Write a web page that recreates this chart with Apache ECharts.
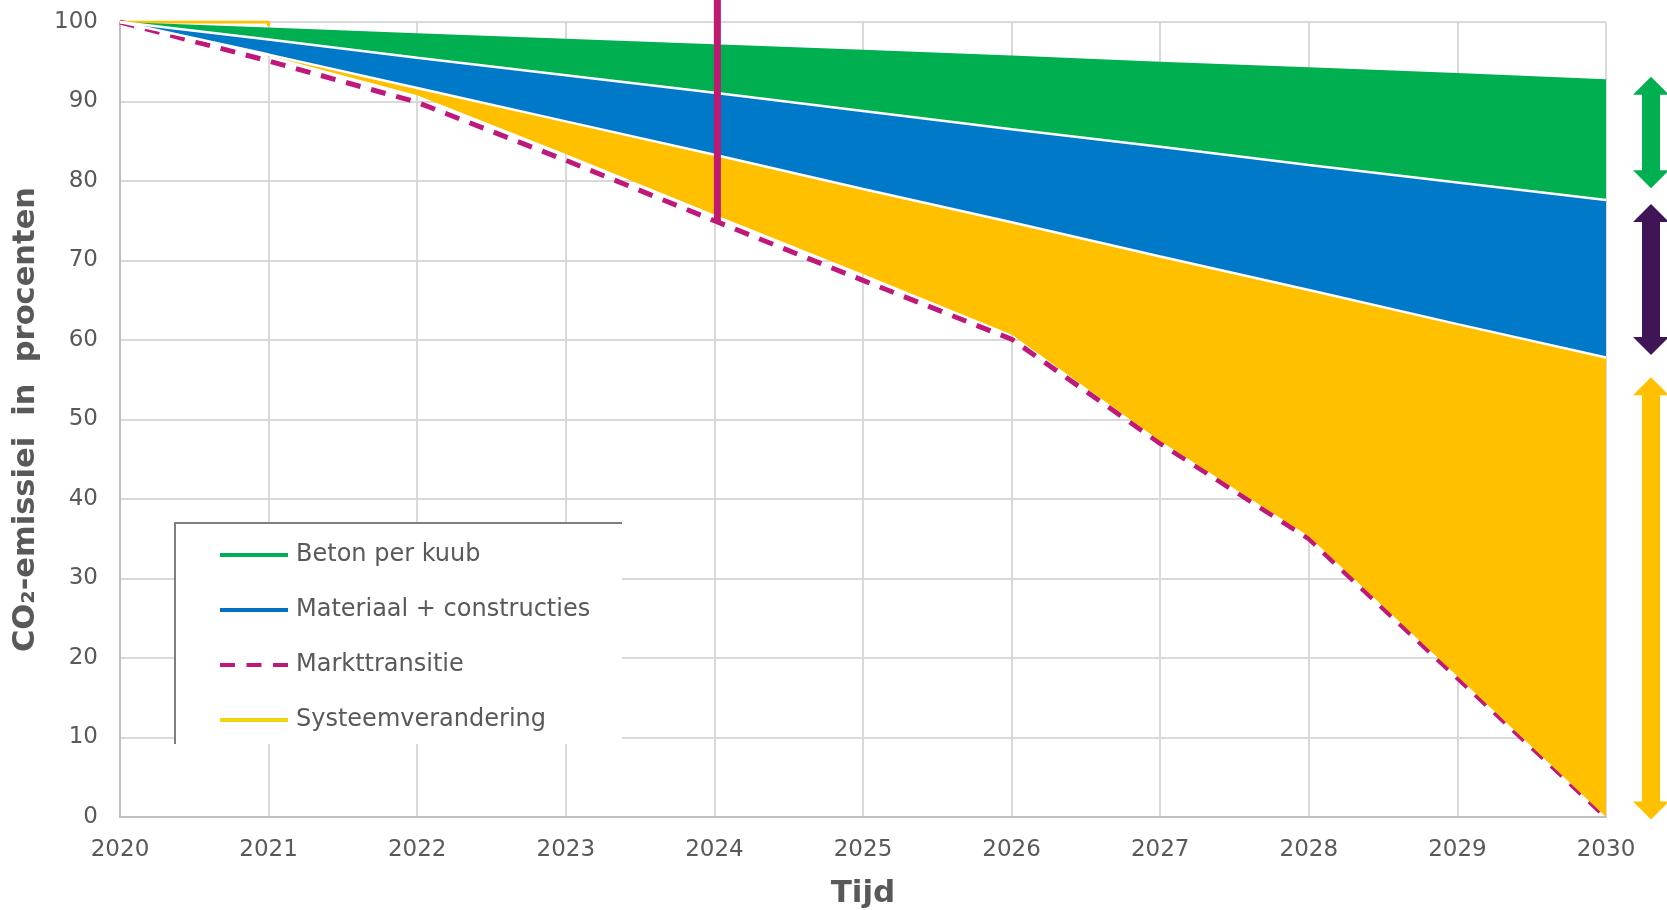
<!DOCTYPE html>
<html>
<head>
<meta charset="utf-8">
<script src="https://cdn.jsdelivr.net/npm/echarts@6/dist/echarts.min.js"></script>
<style>
html,body{margin:0;padding:0;background:#fff;}
#chart{width:1667px;height:910px;}
</style>
</head>
<body>
<div id="chart"></div>
<script>
// ---- data ----
const years = [2020, 2021, 2022, 2023, 2024, 2025, 2026, 2027, 2028, 2029, 2030];
const betonTop = [100, 99.3, 98.6, 97.9, 97.2, 96.5, 95.8, 95.0, 94.3, 93.6, 92.8];
const materiaalTop = [100, 97.8, 95.5, 93.3, 91.1, 88.8, 86.5, 84.3, 82.0, 79.8, 77.6];
const systeemTop = [100, 95.9, 91.7, 87.5, 83.3, 79.0, 74.8, 70.5, 66.3, 62.0, 57.8];
const yellowBase = [100, 95.8, 90.8, 83.4, 75.8, 68.3, 60.7, 47.3, 35.3, 17.7, 0];
const markt = [100, 95.1, 89.9, 82.6, 75.0, 67.5, 60.1, 47.0, 35.0, 17.5, 0];
const systeemLineX = [2020, 2021, 2021];
const systeemLineY = [100, 100, 99.5];
const markerX = [2024.02, 2024.02];
const markerY = [74.8, 102.8];
const arrowTop = [93.1, 77.1, 55.3];
const arrowBottom = [79.1, 58.1, -0.3];
const arrowColors = ['#00B050', '#3F1558', '#FFC000'];
const legendNames = ['Beton per kuub', 'Materiaal + constructies', 'Markttransitie', 'Systeemverandering'];
const yTicks = [0, 10, 20, 30, 40, 50, 60, 70, 80, 90, 100];

// bands (upper / lower boundary arrays and fill colours)
const bandUpper = [systeemTop, materiaalTop, betonTop];
const bandLower = [yellowBase, systeemTop, materiaalTop];
const bandColors = ['#FFC000', '#0079C8', '#00AF50'];

const pairs = (xs, ys) => xs.map((x, i) => [x, ys[i]]);

const FONT = 'DejaVu Sans';
const TXT = '#595959';

const chart = echarts.init(document.getElementById('chart'));

const option = {
  animation: false,
  backgroundColor: '#fff',
  textStyle: { fontFamily: FONT },
  grid: { left: 120, right: 61, top: 22, bottom: 93, outerBoundsMode: 'none', containLabel: false },
  xAxis: {
    type: 'value', min: 2020, max: 2030, interval: 1,
    axisLine: { show: true, lineStyle: { color: '#BFBFBF', width: 2 } },
    axisTick: { show: false },
    splitLine: { show: true, lineStyle: { color: '#D9D9D9', width: 2 } },
    axisLabel: { color: TXT, fontSize: 23, fontFamily: FONT, margin: 22, formatter: v => String(v) },
    name: 'Tijd', nameLocation: 'middle', nameGap: 61,
    nameTextStyle: { color: TXT, fontSize: 31, fontWeight: 'bold', fontFamily: FONT }
  },
  yAxis: {
    type: 'value', min: 0, max: 100, interval: 10,
    axisLine: { show: true, lineStyle: { color: '#BFBFBF', width: 2 } },
    axisTick: { show: false },
    splitLine: { show: true, lineStyle: { color: '#D9D9D9', width: 2 } },
    axisLabel: { color: TXT, fontSize: 23, fontFamily: FONT, margin: 22,
      formatter: v => yTicks.includes(v) ? String(v) : '' },
    name: 'CO₂-emissiei  in  procenten', nameLocation: 'middle', nameGap: 78, nameRotate: 90,
    nameTextStyle: { color: TXT, fontSize: 30.5, fontWeight: 'bold', fontFamily: FONT }
  },
  legend: {
    orient: 'vertical', left: 213, top: 538,
    itemWidth: 68, itemHeight: 14, itemGap: 31,
    data: legendNames,
    textStyle: { color: TXT, fontSize: 24, fontFamily: FONT, padding: [0, 0, 0, 3] },
    lineStyle: { width: 4 },
    itemStyle: { opacity: 0 },
    z: 10
  },
  graphic: [
    { type: 'rect', z: 5, shape: { x: 175, y: 523, width: 447, height: 221 }, style: { fill: '#fff' } },
    { type: 'polyline', z: 6, shape: { points: [[175, 744], [175, 523], [622, 523]] },
      style: { stroke: '#7F7F7F', lineWidth: 2, fill: null } }
  ],
  series: [
    { name: 'markt-line', type: 'line', data: pairs(years, markt), symbol: 'none', z: 2,
      lineStyle: { color: '#C0187A', width: 5, type: [15, 11] } },
    { name: 'bands', type: 'custom', z: 3,
      data: bandColors.map((c, i) => [2020, 100, i]),
      renderItem: function (params, api) {
        const i = api.value(2);
        const up = bandUpper[i], lo = bandLower[i];
        const top = years.map((y, k) => api.coord([y, up[k]]));
        const bot = years.map((y, k) => api.coord([y, lo[k]])).reverse();
        return { type: 'polygon', shape: { points: top.concat(bot) }, style: { fill: bandColors[i] } };
      }
    },
    { name: 'sep1', type: 'line', data: pairs(years, systeemTop), symbol: 'none', z: 4,
      lineStyle: { color: '#fff', width: 2.5 } },
    { name: 'sep2', type: 'line', data: pairs(years, materiaalTop), symbol: 'none', z: 4,
      lineStyle: { color: '#fff', width: 2.5 } },
    { name: 'sys-line', type: 'line', data: pairs(systeemLineX, systeemLineY), symbol: 'none', z: 2,
      lineStyle: { color: '#FFC000', width: 3 } },
    { name: 'marker', type: 'line', data: pairs(markerX, markerY), symbol: 'none', z: 6, clip: false,
      lineStyle: { color: '#BE1A72', width: 7 } },
    { name: 'arrows', type: 'custom', clip: false, z: 6,
      data: arrowTop.map((t, i) => [2030, t, arrowBottom[i], i]),
      renderItem: function (params, api) {
        const x = api.value(0), t = api.value(1), b = api.value(2), idx = api.value(3);
        const p1 = api.coord([x, t]), p2 = api.coord([x, b]);
        const cx = p1[0] + 45, y1 = p1[1], y2 = p2[1];
        const hw = 18, sw = 9, hh = 18;
        return {
          type: 'polygon',
          shape: { points: [
            [cx, y1], [cx + hw, y1 + hh], [cx + sw, y1 + hh], [cx + sw, y2 - hh], [cx + hw, y2 - hh],
            [cx, y2], [cx - hw, y2 - hh], [cx - sw, y2 - hh], [cx - sw, y1 + hh], [cx - hw, y1 + hh]
          ] },
          style: { fill: arrowColors[idx] }
        };
      }
    },
    { name: legendNames[0], type: 'line', data: [], symbol: 'none', lineStyle: { color: '#00B050', width: 4 } },
    { name: legendNames[1], type: 'line', data: [], symbol: 'none', lineStyle: { color: '#0070C0', width: 4 } },
    { name: legendNames[2], type: 'line', data: [], symbol: 'none', lineStyle: { color: '#C0187A', width: 4, type: [15, 11.5] } },
    { name: legendNames[3], type: 'line', data: [], symbol: 'none', lineStyle: { color: '#F2D50F', width: 4 } }
  ]
};
chart.setOption(option);
</script>
</body>
</html>
